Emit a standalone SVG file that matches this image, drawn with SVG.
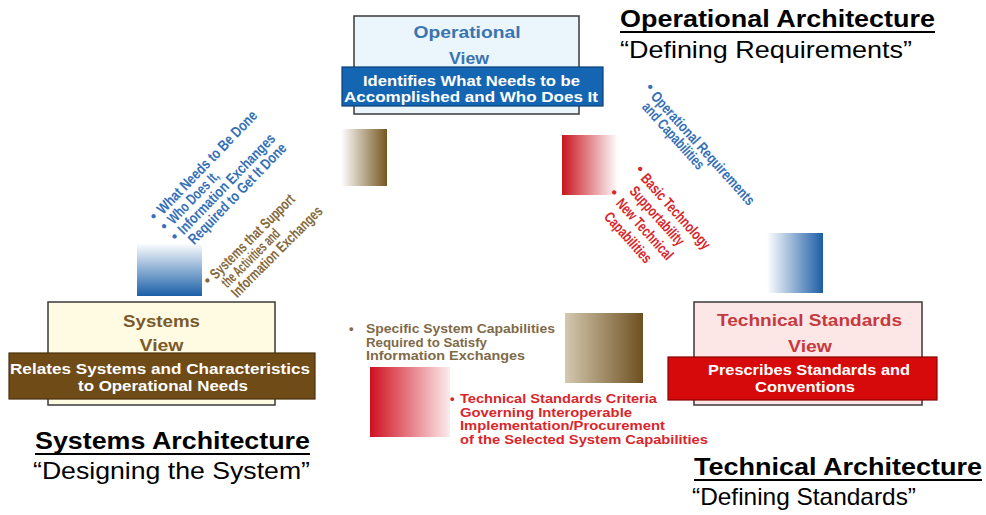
<svg xmlns="http://www.w3.org/2000/svg" width="986" height="515" viewBox="0 0 986 515">
<defs>
<linearGradient id="gBrownR" x1="0" y1="0" x2="1" y2="0"><stop offset="0" stop-color="#ffffff"/><stop offset="1" stop-color="#76561f"/></linearGradient>
<linearGradient id="gRedL" x1="0" y1="0" x2="1" y2="0"><stop offset="0" stop-color="#c8141e"/><stop offset="1" stop-color="#ffffff"/></linearGradient>
<linearGradient id="gBlueR" x1="0" y1="0" x2="1" y2="0"><stop offset="0" stop-color="#ffffff"/><stop offset="1" stop-color="#1c5da5"/></linearGradient>
<linearGradient id="gBlueV" x1="0" y1="0" x2="0" y2="1"><stop offset="0" stop-color="#ffffff"/><stop offset="1" stop-color="#1a5fa8"/></linearGradient>
<linearGradient id="gBeige" x1="0" y1="0" x2="1" y2="0"><stop offset="0" stop-color="#d4c8b0"/><stop offset="1" stop-color="#6e5020"/></linearGradient>
<linearGradient id="gRed2" x1="0" y1="0" x2="1" y2="0"><stop offset="0" stop-color="#cf1020"/><stop offset="1" stop-color="#fcecec"/></linearGradient>
</defs>
<style>
text{font-family:"Liberation Sans",Arial,sans-serif}
.box{stroke:#3a3a3a;stroke-width:1.5}
.title{font-size:17px;font-weight:bold;text-anchor:middle}
.band{font-size:15.5px;font-weight:bold;fill:#fff;text-anchor:middle}
.arch{font-size:24px;font-weight:bold;fill:#000}
.quote{font-size:24px;fill:#000}
.ul{stroke:#000;stroke-width:2}
.rot{font-size:15px;font-weight:bold}
.blue{fill:#3570b8}
.brown{fill:#85693a}
.red{fill:#d9262b}
.mid{font-size:13px;font-weight:bold}
</style>
<rect width="986" height="515" fill="#fff"/>

<g id="connectors">
<rect x="341" y="129" width="46" height="57" fill="url(#gBrownR)"/>
<rect x="562" y="135" width="56" height="60" fill="url(#gRedL)"/>
<rect x="767" y="233" width="56" height="60" fill="url(#gBlueR)"/>
<rect x="137" y="243" width="65" height="53" fill="url(#gBlueV)"/>
<rect x="565" y="313" width="78" height="70" fill="url(#gBeige)"/>
<rect x="370" y="367" width="80" height="70" fill="url(#gRed2)"/>

<g transform="translate(163,215) rotate(-46)" class="rot blue">
<text x="-10" y="-1">•</text><text x="0" y="0" textLength="137" lengthAdjust="spacingAndGlyphs">What Needs to Be Done</text>
<text x="-10" y="13.5">•</text><text x="0" y="14.5" textLength="67" lengthAdjust="spacingAndGlyphs">Who Does It,</text>
<text x="-10" y="28">•</text><text x="0" y="29" textLength="133" lengthAdjust="spacingAndGlyphs">Information Exchanges</text>
<text x="0" y="43.5" textLength="134" lengthAdjust="spacingAndGlyphs">Required to Get It Done</text>
</g>
<g transform="translate(216,280) rotate(-45)" class="rot brown">
<text x="-9" y="-1">•</text><text x="0" y="0" textLength="113" lengthAdjust="spacingAndGlyphs">Systems that Support</text>
<text x="2" y="14" textLength="76" lengthAdjust="spacingAndGlyphs">the Activities and</text>
<text x="2" y="28" textLength="122" lengthAdjust="spacingAndGlyphs">Information Exchanges</text>
</g>
<g transform="translate(650,97) rotate(48)" class="rot blue">
<text x="-10" y="-2">•</text><text x="0" y="0" textLength="147" lengthAdjust="spacingAndGlyphs">Operational Requirements</text>
<text x="2" y="13.5" textLength="85" lengthAdjust="spacingAndGlyphs">and Capabilities</text>
</g>
<g transform="translate(640,179) rotate(48)" class="rot red">
<text x="-10" y="-2">•</text><text x="0" y="0" textLength="96" lengthAdjust="spacingAndGlyphs">Basic Technology</text>
<text x="2" y="17" textLength="74" lengthAdjust="spacingAndGlyphs">Supportability</text>
<text x="-10" y="33">•</text><text x="2" y="35" textLength="77" lengthAdjust="spacingAndGlyphs">New Technical</text>
<text x="4" y="53" textLength="63" lengthAdjust="spacingAndGlyphs">Capabilities</text>
</g>

<g class="mid" fill="#806a48">
<text x="349" y="333">•</text>
<text x="366" y="333" textLength="189" lengthAdjust="spacingAndGlyphs">Specific System Capabilities</text>
<text x="366" y="346.5" textLength="121" lengthAdjust="spacingAndGlyphs">Required  to Satisfy</text>
<text x="366" y="360" textLength="159" lengthAdjust="spacingAndGlyphs">Information Exchanges</text>
</g>
<g class="mid red">
<text x="450" y="403">•</text>
<text x="460" y="403" textLength="197" lengthAdjust="spacingAndGlyphs">Technical Standards Criteria</text>
<text x="460" y="416.5" textLength="172" lengthAdjust="spacingAndGlyphs">Governing Interoperable</text>
<text x="460" y="430" textLength="205" lengthAdjust="spacingAndGlyphs">Implementation/Procurement</text>
<text x="460" y="443.5" textLength="248" lengthAdjust="spacingAndGlyphs">of the Selected System Capabilities</text>
</g>
</g>

<g id="node-operational">
<rect class="box" x="354" y="16" width="225" height="98" fill="#eaf5fc"/>
<text class="title" x="467" y="38" fill="#3a74b0" textLength="107" lengthAdjust="spacingAndGlyphs">Operational</text>
<text class="title" x="469" y="63.5" fill="#3a74b0" textLength="40" lengthAdjust="spacingAndGlyphs">View</text>
<rect x="342" y="67" width="261" height="39" fill="#1566b2" stroke="#0b3f78" stroke-width="1.2"/>
<text class="band" x="471.5" y="85.5" textLength="217" lengthAdjust="spacingAndGlyphs">Identifies What Needs to be</text>
<text class="band" x="471" y="101.5" textLength="254" lengthAdjust="spacingAndGlyphs">Accomplished and Who Does It</text>
</g>

<g id="node-systems">
<rect class="box" x="48" y="302" width="227" height="103" fill="#fffbe3"/>
<text class="title" x="161.5" y="327" fill="#7a5a2a" textLength="77" lengthAdjust="spacingAndGlyphs">Systems</text>
<text class="title" x="161.5" y="351" fill="#7a5a2a" textLength="44" lengthAdjust="spacingAndGlyphs">View</text>
<rect x="9" y="353" width="306" height="46" fill="#6e4b17" stroke="#4a300c" stroke-width="1.2"/>
<text class="band" x="160" y="373.5" textLength="300" lengthAdjust="spacingAndGlyphs">Relates Systems and Characteristics</text>
<text class="band" x="163" y="390.5" textLength="170" lengthAdjust="spacingAndGlyphs">to Operational Needs</text>
</g>

<g id="node-technical">
<rect class="box" x="694" y="302" width="228" height="103" fill="#fde6e6"/>
<text class="title" x="809.5" y="326" fill="#c53a3e" textLength="185" lengthAdjust="spacingAndGlyphs">Technical Standards</text>
<text class="title" x="810" y="352" fill="#c53a3e" textLength="44" lengthAdjust="spacingAndGlyphs">View</text>
<rect x="668" y="357" width="269" height="43" fill="#d60a0a" stroke="#8a0000" stroke-width="1.2"/>
<text class="band" x="809" y="374.5" textLength="202" lengthAdjust="spacingAndGlyphs">Prescribes Standards and</text>
<text class="band" x="805" y="392" textLength="100" lengthAdjust="spacingAndGlyphs">Conventions</text>
</g>

<g id="label-operational-architecture">
<text class="arch" x="620" y="27" textLength="315" lengthAdjust="spacingAndGlyphs">Operational Architecture</text>
<line class="ul" x1="620" y1="32" x2="935" y2="32"/>
<text class="quote" x="620" y="58" textLength="292" lengthAdjust="spacingAndGlyphs">“Defining Requirements”</text>
</g>
<g id="label-systems-architecture">
<text class="arch" x="35" y="449" textLength="275" lengthAdjust="spacingAndGlyphs">Systems Architecture</text>
<line class="ul" x1="35" y1="454" x2="310" y2="454"/>
<text class="quote" x="33" y="479" textLength="277" lengthAdjust="spacingAndGlyphs">“Designing the System”</text>
</g>
<g id="label-technical-architecture">
<text class="arch" x="694" y="475" textLength="288" lengthAdjust="spacingAndGlyphs">Technical Architecture</text>
<line class="ul" x1="694" y1="480" x2="982" y2="480"/>
<text class="quote" x="692" y="505" textLength="224" lengthAdjust="spacingAndGlyphs">“Defining Standards”</text>
</g>
</svg>
